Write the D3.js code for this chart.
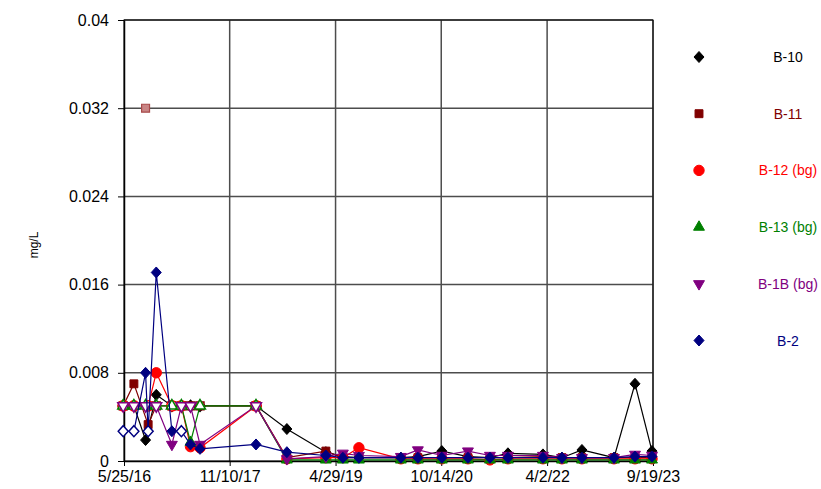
<!DOCTYPE html>
<html><head><meta charset="utf-8">
<script src="https://cdn.jsdelivr.net/npm/d3@7"></script>
<style>body{margin:0;background:#fff;} text{font-family:"Liberation Sans",Arial,sans-serif;}</style>
</head><body><svg id="c" width="821" height="489"></svg>
<script>
// ---- data ----
const sampleDates = ["2016-05-21","2016-07-14","2016-09-11","2016-09-24","2016-11-04","2017-01-22","2017-03-11","2017-04-26","2017-06-13","2018-03-23","2018-08-26","2019-03-11","2019-06-05","2019-08-25","2020-03-24","2020-06-18","2020-10-17","2021-02-26","2021-06-17","2021-09-16","2022-03-12","2022-06-16","2022-09-25","2023-03-06","2023-06-20","2023-09-14"];
const seriesNames = ["B-10","B-11","B-12 (bg)","B-13 (bg)","B-1B (bg)","B-2"];
const b10 = [0.005,0.005,0.0019,null,0.006,0.005,0.005,0.005,0.005,0.005,0.0029,0.0008,0.0004,0.0003,0.0003,0.0004,0.0009,0.0004,0.0003,0.0007,0.0006,0.0003,0.001,0.0003,0.007,0.0009];
const b10nd = [1,1,0,0,0,1,1,1,1,1,0,0,0,0,0,0,0,0,0,0,0,0,0,0,0,0];
const b11 = [0.005,0.007,null,0.0033,0.005,0.005,0.005,0.005,0.005,0.005,0.0003,0.0009,0.0003,0.0003,0.0003,0.0003,0.0003,0.0003,0.0003,0.0003,0.0004,0.0003,0.0003,0.0003,0.0003,0.0003];
const b11nd = [1,0,0,0,1,1,1,1,1,1,0,0,0,0,0,0,0,0,0,0,0,0,0,0,0,0];
const b12 = [0.005,0.005,null,0.005,0.008,0.005,0.005,0.0013,0.0012,0.005,0.0002,0.0003,0.0003,0.0012,0.0002,0.0002,0.0002,0.0002,0.0001,0.0002,0.0002,0.0002,0.0002,0.0002,0.0002,0.0002];
const b12nd = [1,1,0,1,0,1,1,0,0,1,0,0,0,0,0,0,0,0,0,0,0,0,0,0,0,0];
const b13 = [0.005,0.005,0.005,null,0.005,0.005,0.005,0.0017,0.005,0.005,0.0001,0.0001,0.0001,0.0001,0.0001,0.0001,0.0001,0.0001,0.0001,0.0001,0.0001,0.0001,0.0001,0.0001,0.0001,0.0001];
const b13nd = [1,1,1,0,1,1,1,0,1,1,0,0,0,0,0,0,0,0,0,0,0,0,0,0,0,0];
const b1b = [0.005,0.005,0.005,null,0.005,0.0015,0.005,0.005,0.0015,0.005,0.0002,0.0004,0.0007,0.0005,0.0004,0.001,0.0005,0.0009,0.0005,0.0005,0.0005,0.0003,0.0003,0.0003,0.0006,0.0005];
const b1bnd = [1,1,1,0,1,0,1,1,0,1,0,0,0,0,0,0,0,0,0,0,0,0,0,0,0,0];
const b2 = [0.0027,0.0027,0.008,0.0027,0.0171,0.0027,0.0027,0.0015,0.0011,0.0015,0.0008,0.0005,0.0003,0.0003,0.0003,0.0003,0.0003,0.0003,0.0003,0.0003,0.0003,0.0003,0.0003,0.0003,0.0004,0.0004];
const b2nd = [1,1,0,1,0,0,1,0,0,0,0,0,0,0,0,0,0,0,0,0,0,0,0,0,0,0];
const outlierDates = ["2016-09-11"];
const outlierValues = [0.032];
const yTickValues = [0,0.008,0.016,0.024,0.032,0.04];
const yTickLabels = ["0","0.008","0.016","0.024","0.032","0.04"];
const xTickDates = ["2016-05-25","2017-11-10","2019-04-29","2020-10-14","2022-04-02","2023-09-19"];
const xTickLabels = ["5/25/16","11/10/17","4/29/19","10/14/20","4/2/22","9/19/23"];

// ---- drawing ----
const parse = d3.timeParse("%Y-%m-%d");
const colors = ["#000000","#800000","#FF0000","#008000","#800080","#000080"];
const shapes = ["diamond","square","circle","triangle","triangleDown","diamond"];
const values = [b10,b11,b12,b13,b1b,b2];
const nds = [b10nd,b11nd,b12nd,b13nd,b1bnd,b2nd];

const svg = d3.select("#c");
const L=124,R=653,T=20,B=461;
const x = d3.scaleTime().domain([parse("2016-05-25"),parse("2023-09-19")]).range([L,R]);
const y = d3.scaleLinear().domain([0,0.04]).range([B,T]);

// gridlines
const g = svg.append("g");
g.selectAll(".hg").data(yTickValues.slice(1)).join("line")
 .attr("x1",L).attr("x2",R).attr("y1",d=>y(d)).attr("y2",d=>y(d))
 .attr("stroke","#4d4d4d").attr("stroke-width",1.5);
g.selectAll(".vg").data(xTickDates.slice(1)).join("line")
 .attr("x1",d=>x(parse(d))).attr("x2",d=>x(parse(d))).attr("y1",T).attr("y2",B)
 .attr("stroke","#4d4d4d").attr("stroke-width",1.5);
g.append("rect").attr("x",L).attr("y",T).attr("width",R-L).attr("height",B-T)
 .attr("fill","none").attr("stroke","#000").attr("stroke-width",1);

// axes
const yAxis = d3.axisLeft(y).tickValues(yTickValues).tickFormat((d,i)=>yTickLabels[i]).tickSizeInner(6).tickSizeOuter(0).tickPadding(9);
const ya = svg.append("g").attr("transform",`translate(${L},0)`).call(yAxis);
ya.select(".domain").attr("stroke","#000").attr("stroke-width",1.5);
ya.selectAll("text").attr("font-size",16).attr("fill","#000").attr("font-family","Liberation Sans, Arial, sans-serif");
const xAxis = d3.axisBottom(x).tickValues(xTickDates.map(parse)).tickFormat((d,i)=>xTickLabels[i]).tickSizeInner(5).tickSizeOuter(0).tickPadding(5);
const xa = svg.append("g").attr("transform",`translate(0,${B})`).call(xAxis);
xa.select(".domain").attr("stroke","#000").attr("stroke-width",1.5);
xa.selectAll("text").attr("font-size",16).attr("fill","#000").attr("font-family","Liberation Sans, Arial, sans-serif");

svg.append("text").attr("transform","translate(38,245) rotate(-90)")
 .attr("text-anchor","middle").attr("font-size",12).text("mg/L");

function sym(shape){
  const m = {square:[d3.symbolSquare2,80],circle:[d3.symbolCircle,85],triangle:[d3.symbolTriangle2,85],triangleDown:[d3.symbolTriangle2,85]};
  const [t,s]=m[shape];
  return d3.symbol().type(t).size(s)();
}
function markerTransform(shape,px,py){
  return shape==="triangleDown" ? `translate(${px},${py}) rotate(180)` : `translate(${px},${py})`;
}
function pathFor(shape){ return shape==="diamond" ? "M0,-5.5L5,0L0,5.5L-5,0Z" : sym(shape); }

const line = d3.line().defined(d=>d.v!=null).x(d=>x(d.t)).y(d=>y(d.v));
values.forEach((vals,si)=>{
  const pts = sampleDates.map((d,i)=>({t:parse(d),v:vals[i],nd:nds[si][i]})).filter(p=>p.v!=null);
  const sg = svg.append("g");
  sg.append("path").datum(pts).attr("d",line).attr("fill","none").attr("stroke",colors[si]).attr("stroke-width",1.2);
  sg.selectAll("path.m").data(pts).join("path").attr("class","m")
    .attr("d",pathFor(shapes[si]))
    .attr("transform",p=>markerTransform(shapes[si],x(p.t),y(p.v)))
    .attr("fill",p=>p.nd? "#fff" : colors[si])
    .attr("stroke",colors[si]).attr("stroke-width",p=>p.nd?1.5:1);
});
// outlier point (no line)
svg.selectAll("path.o").data(outlierDates.map((d,i)=>({t:parse(d),v:outlierValues[i]}))).join("path")
 .attr("d",sym("square")).attr("transform",p=>`translate(${x(p.t)},${y(p.v)})`)
 .attr("fill","#c98585").attr("stroke","#a84a4a").attr("stroke-width",1.2);

// legend
const lg = svg.append("g");
seriesNames.forEach((n,i)=>{
  const ly = 57 + i*56.7;
  lg.append("path").attr("d",pathFor(shapes[i])).attr("transform",markerTransform(shapes[i],699,ly))
    .attr("fill",colors[i]).attr("stroke",colors[i]);
  lg.append("text").attr("x",788).attr("y",ly+5).attr("text-anchor","middle").attr("font-size",14)
    .attr("fill",colors[i]).text(n);
});
</script></body></html>
